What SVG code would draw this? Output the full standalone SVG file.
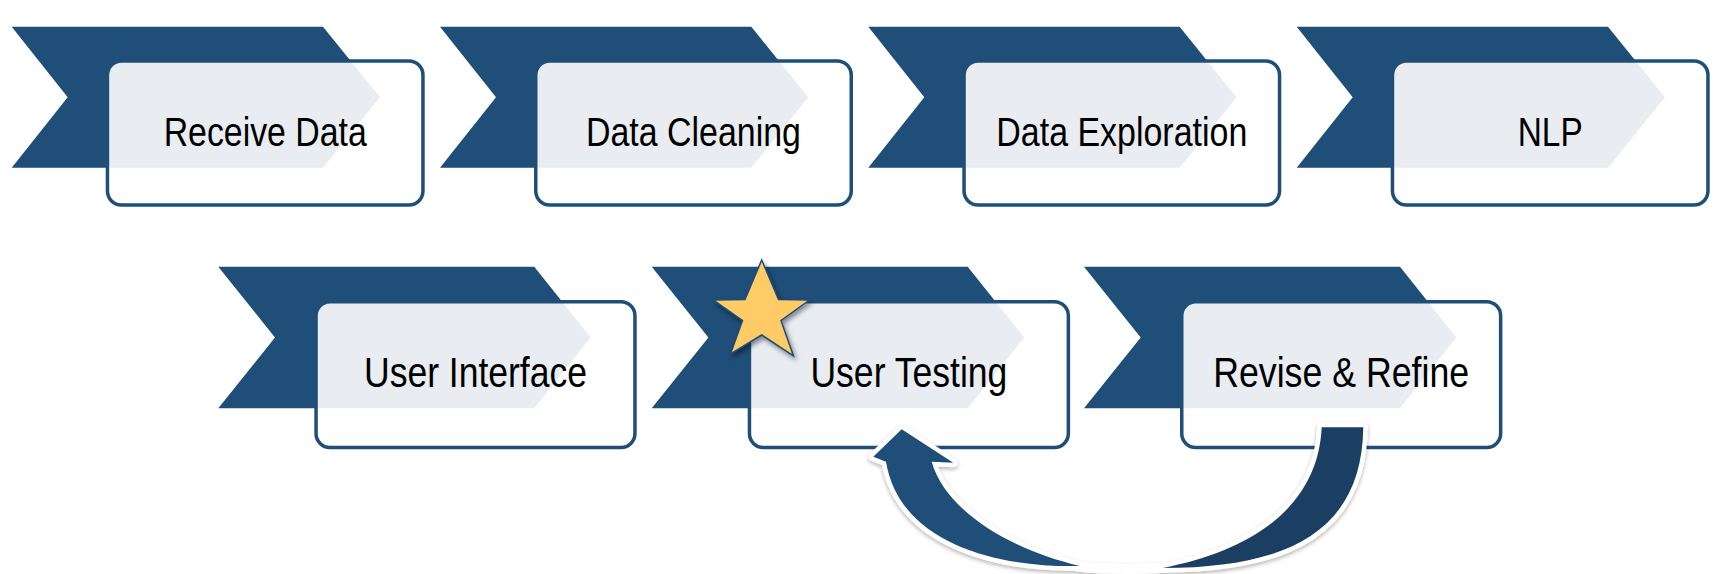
<svg xmlns="http://www.w3.org/2000/svg" width="1719" height="574" viewBox="0 0 1719 574">
  <style>
    .chev { fill: #1F4E79; }
    .box { fill: #FFFFFF; fill-opacity: 0.9; stroke: #1F4E79; stroke-width: 3.5; }
    .lbl { font-family: "Liberation Sans", Arial, sans-serif; fill: #000000; text-anchor: middle; }
    .top { font-size: 41px; }
    .bot { font-size: 43px; }
    .outline { fill: #FFFFFF; stroke: #FFFFFF; stroke-width: 9; stroke-linejoin: round; }
  </style>
  <defs>
    <polygon id="chevTop" class="chev" points="0,26.7 311.3,26.7 368.3,97.2 311.3,167.7 0,167.7 56,97.2"/>
    <polygon id="chevBot" class="chev" points="0,266.7 316,266.7 372.4,337.5 316,408.3 0,408.3 56.7,337.5"/>
    <filter id="starShadow" x="-30%" y="-30%" width="160%" height="160%">
      <feDropShadow dx="2" dy="3" stdDeviation="2.5" flood-color="#000000" flood-opacity="0.45"/>
    </filter>
    <filter id="arrowShadow" x="-10%" y="-10%" width="120%" height="130%">
      <feDropShadow dx="0" dy="2" stdDeviation="2" flood-color="#000000" flood-opacity="0.3"/>
    </filter>
  </defs>
  <rect width="1719" height="574" fill="#FFFFFF"/>

  <g id="node-receive-data" transform="translate(11.7,0)">
    <use href="#chevTop"/>
    <rect class="box" x="95.75" y="61" width="315.5" height="144" rx="14"/>
    <text class="lbl top" x="253.5" y="146" textLength="203" lengthAdjust="spacingAndGlyphs">Receive Data</text>
  </g>
  <g id="node-data-cleaning" transform="translate(440,0)">
    <use href="#chevTop"/>
    <rect class="box" x="95.75" y="61" width="315.5" height="144" rx="14"/>
    <text class="lbl top" x="253.5" y="146" textLength="215" lengthAdjust="spacingAndGlyphs">Data Cleaning</text>
  </g>
  <g id="node-data-exploration" transform="translate(868.3,0)">
    <use href="#chevTop"/>
    <rect class="box" x="95.75" y="61" width="315.5" height="144" rx="14"/>
    <text class="lbl top" x="253.5" y="146" textLength="251" lengthAdjust="spacingAndGlyphs">Data Exploration</text>
  </g>
  <g id="node-nlp" transform="translate(1296.7,0)">
    <use href="#chevTop"/>
    <rect class="box" x="95.75" y="61" width="315.5" height="144" rx="14"/>
    <text class="lbl top" x="253.5" y="146" textLength="65" lengthAdjust="spacingAndGlyphs">NLP</text>
  </g>

  <g id="node-user-interface" transform="translate(218.3,0)">
    <use href="#chevBot"/>
    <rect class="box" x="97.75" y="301.75" width="318.9" height="145.8" rx="14"/>
    <text class="lbl bot" x="257.2" y="386.7" textLength="223" lengthAdjust="spacingAndGlyphs">User Interface</text>
  </g>
  <g id="node-user-testing" transform="translate(651.7,0)">
    <use href="#chevBot"/>
    <rect class="box" x="97.75" y="301.75" width="318.9" height="145.8" rx="14"/>
    <text class="lbl bot" x="257.2" y="386.7" textLength="197" lengthAdjust="spacingAndGlyphs">User Testing</text>
  </g>
  <g id="node-revise-refine" transform="translate(1084,0)">
    <use href="#chevBot"/>
    <rect class="box" x="97.75" y="301.75" width="318.9" height="145.8" rx="14"/>
    <text class="lbl bot" x="257.2" y="386.7" textLength="256" lengthAdjust="spacingAndGlyphs">Revise &amp; Refine</text>
  </g>

  <g id="star">
    <polygon points="761.7,260 778.5,299.5 809.5,300 781,320.5 793.5,356 761.7,335 730.5,354 742.5,320.5 713.5,300 745,299.5" fill="#FECB66" stroke="#1F4E79" stroke-width="1.5" stroke-linejoin="miter" filter="url(#starShadow)"/>
  </g>

  <g id="connectors">
    <g filter="url(#arrowShadow)">
      <path class="outline" d="M886,461.7 L873.3,456.7 L901.7,429.3 L953.3,462.7 L931.7,461.7 C945,510 1010,550 1080,566 C1000,568 900,545 886,461.7 Z"/>
      <path class="outline" d="M1321.7,427.3 L1363.3,427.3 C1362,530 1290,568 1163,568 C1255,550 1318,505 1321.7,427.3 Z"/>
      <path d="M1076,566.5 Q1121,571 1168,567.5" fill="none" stroke="#FFFFFF" stroke-width="10"/>
    </g>
    <path fill="#1F4E79" d="M886,461.7 L873.3,456.7 L901.7,429.3 L953.3,462.7 L931.7,461.7 C945,510 1010,550 1080,566 C1000,568 900,545 886,461.7 Z"/>
    <path fill="#1A3F62" d="M1321.7,427.3 L1363.3,427.3 C1362,530 1290,568 1163,568 C1255,550 1318,505 1321.7,427.3 Z"/>
  </g>
</svg>
